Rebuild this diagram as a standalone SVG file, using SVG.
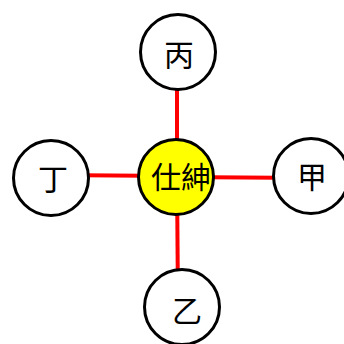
<svg xmlns="http://www.w3.org/2000/svg" width="344" height="344" viewBox="0 0 344 344">
<style>
.edge{stroke:#ff0000;stroke-width:4;fill:none}
.node circle{fill:#ffffff;stroke:#000000;stroke-width:3}
#n-center circle{fill:#ffff00}
.node text{font-family:"Noto Sans CJK TC","Noto Sans CJK SC",sans-serif;font-size:30px;fill:#000000;text-anchor:middle;dominant-baseline:central}
</style>
<rect width="344" height="344" fill="#ffffff"/>
<g id="connectors">
<line class="edge" x1="177" y1="177" x2="177" y2="52"/>
<line class="edge" x1="177" y1="177" x2="178" y2="307"/>
<line class="edge" x1="176" y1="176" x2="51" y2="175"/>
<line class="edge" x1="176" y1="177" x2="311" y2="178"/>
</g>
<g id="n-bing" class="node"><circle cx="178" cy="52" r="37.5"/><text x="179" y="53">丙</text></g>
<g id="n-ding" class="node"><circle cx="51" cy="178" r="37.5"/><text x="53" y="177">丁</text></g>
<g id="n-jia" class="node"><circle cx="311" cy="176" r="37.5"/><text x="312" y="175">甲</text></g>
<g id="n-yi" class="node"><circle cx="182" cy="307" r="37.5"/><text x="187" y="309">乙</text></g>
<g id="n-center" class="node"><circle cx="176" cy="177" r="37.5"/><text x="181" y="175">仕紳</text></g>
</svg>
